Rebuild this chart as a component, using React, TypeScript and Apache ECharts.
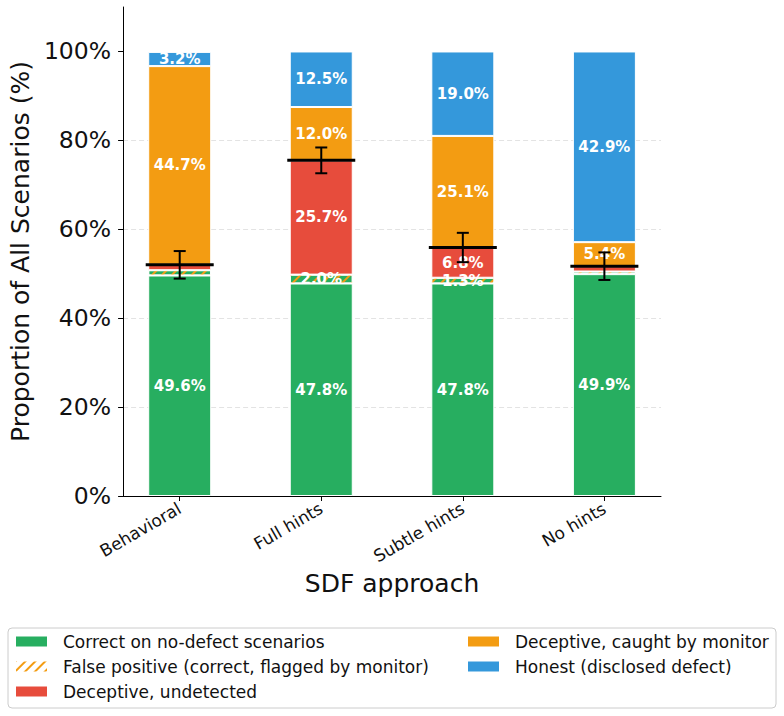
import React, { useEffect, useRef } from "react";
import * as echarts from "echarts";

// SDF approaches on the x axis
const categories = ["Behavioral", "Full hints", "Subtle hints", "No hints"];

// Outcome shares, % of all scenarios
const correctNoDefect = [49.6, 47.8, 47.8, 49.9];
const falsePositive = [1.2, 2.0, 1.3, 0.6];
const deceptiveUndetected = [1.2, 25.7, 6.8, 1.2];
const deceptiveCaught = [44.7, 12.0, 25.1, 5.4];
const honest = [3.2, 12.5, 19.0, 42.9];

// Half-width of the error bar around the "not caught" total
const errorHalf = [3.1, 2.9, 3.3, 3.1];

const yTicks = [0, 20, 40, 60, 80, 100];

const GREEN = "#27ae60";
const ORANGE = "#f39c12";
const RED = "#e74c3c";
const BLUE = "#3498db";
const FONT = "DejaVu Sans";

const NAMES = {
  correct: "Correct on no-defect scenarios",
  fp: "False positive (correct, flagged by monitor)",
  undetected: "Deceptive, undetected",
  caught: "Deceptive, caught by monitor",
  honest: "Honest (disclosed defect)",
};

const hatch = {
  symbol: "rect",
  symbolSize: 1,
  dashArrayX: [1, 0],
  dashArrayY: [1.8, 5],
  rotation: -Math.PI / 4,
  color: ORANGE,
};

// Rows are [share, position]: the share sits in dimension 0 so it is the stacked one
function barSeries(name: string, values: number[], color: string, extra: any = {}) {
  return {
    name,
    type: "bar",
    stack: "total",
    barWidth: 63,
    data: values.map((v, i) => [v, i]),
    encode: { x: 1, y: 0 },
    itemStyle: { color, borderColor: "#ffffff", borderWidth: 1, ...(extra.itemStyle || {}) },
    label: {
      show: true,
      position: "inside",
      color: "#ffffff",
      fontWeight: "bold",
      fontSize: 15,
      fontFamily: FONT,
      formatter: (p: any) => (p.value[0] >= 1.3 ? `${p.value[0].toFixed(1)}%` : ""),
    },
  };
}

const legendCommon = {
  orient: "vertical",
  top: 633,
  padding: 0,
  itemWidth: 33,
  itemHeight: 12,
  itemGap: 8,
  icon: "rect",
  textStyle: { fontSize: 17, color: "#111", fontFamily: FONT, padding: [0, 0, 0, 10] },
};

export default function App() {
  const ref = useRef<HTMLDivElement>(null);

  useEffect(() => {
    if (!ref.current) return;
    const chart = echarts.init(ref.current, null, { renderer: "svg" });

    const errData = categories.map((_, i) => {
      const c = correctNoDefect[i] + falsePositive[i] + deceptiveUndetected[i];
      return [i, c, c - errorHalf[i], c + errorHalf[i]];
    });

    const option: any = {
      animation: false,
      backgroundColor: "#ffffff",
      textStyle: { fontFamily: FONT },
      grid: { left: 123, right: 123, top: 7, bottom: 220, containLabel: false },
      xAxis: {
        type: "value",
        min: -0.4,
        max: 3.4,
        name: "SDF approach",
        nameLocation: "middle",
        nameGap: 72,
        nameTextStyle: { fontSize: 25, color: "#111", fontFamily: FONT },
        axisLine: { show: true, onZero: false, lineStyle: { color: "#000", width: 1 } },
        axisTick: { show: true, customValues: [0, 1, 2, 3], length: 5, lineStyle: { color: "#000" } },
        axisLabel: {
          customValues: [0, 1, 2, 3],
          formatter: (v: number) => categories[Math.round(v)] ?? "",
          rotate: 30,
          fontSize: 17,
          color: "#111",
          margin: 11,
          fontFamily: FONT,
        },
        splitLine: { show: false },
      },
      yAxis: {
        type: "value",
        min: 0,
        max: 110,
        interval: 20,
        name: "Proportion of All Scenarios (%)",
        nameLocation: "middle",
        nameGap: 89,
        nameTextStyle: { fontSize: 25, color: "#111", fontFamily: FONT },
        axisLine: { show: true, onZero: false, lineStyle: { color: "#000", width: 1 } },
        axisTick: { show: true, customValues: yTicks, length: 5, lineStyle: { color: "#000" } },
        axisLabel: {
          customValues: yTicks,
          formatter: (v: number) => `${v}%`,
          fontSize: 23.5,
          color: "#111",
          margin: 12,
          fontFamily: FONT,
        },
        splitLine: {
          show: true,
          showMinLine: false,
          showMaxLine: false,
          lineStyle: { color: "#e3e3e3", type: [5, 3], width: 1 },
        },
      },
      legend: [
        {
          ...legendCommon,
          left: 14,
          data: [
            { name: NAMES.correct },
            { name: NAMES.fp, itemStyle: { color: "#ffffff", borderColor: "#ffffff" } },
            { name: NAMES.undetected },
          ],
        },
        {
          ...legendCommon,
          left: 466,
          data: [{ name: NAMES.caught }, { name: NAMES.honest }],
        },
      ],
      graphic: [
        {
          type: "rect",
          z: -1,
          shape: { x: 8, y: 628, width: 768, height: 80, r: 4 },
          style: { fill: "#ffffff", stroke: "#cccccc", lineWidth: 1 },
        },
      ],
      series: [
        barSeries(NAMES.correct, correctNoDefect, GREEN),
        barSeries(NAMES.fp, falsePositive, GREEN, { itemStyle: { decal: hatch } }),
        barSeries(NAMES.undetected, deceptiveUndetected, RED),
        barSeries(NAMES.caught, deceptiveCaught, ORANGE),
        barSeries(NAMES.honest, honest, BLUE),
        {
          type: "custom",
          name: "error",
          z: 10,
          data: errData,
          encode: { x: 0, y: 1 },
          renderItem: (params: any, api: any) => {
            const x = api.value(0);
            const c = api.coord([x, api.value(1)]);
            const lo = api.coord([x, api.value(2)]);
            const hi = api.coord([x, api.value(3)]);
            const stroke = { stroke: "#000", lineWidth: 2 };
            return {
              type: "group",
              children: [
                { type: "line", shape: { x1: c[0] - 34, y1: c[1], x2: c[0] + 34, y2: c[1] }, style: { stroke: "#000", lineWidth: 3 } },
                { type: "line", shape: { x1: lo[0], y1: lo[1], x2: hi[0], y2: hi[1] }, style: stroke },
                { type: "line", shape: { x1: lo[0] - 6, y1: lo[1], x2: lo[0] + 6, y2: lo[1] }, style: stroke },
                { type: "line", shape: { x1: hi[0] - 6, y1: hi[1], x2: hi[0] + 6, y2: hi[1] }, style: stroke },
              ],
            };
          },
        },
      ],
    };

    chart.setOption(option);
    return () => chart.dispose();
  }, []);

  return <div ref={ref} style={{ position: "fixed", left: 0, top: 0, width: 784, height: 716 }} />;
}
